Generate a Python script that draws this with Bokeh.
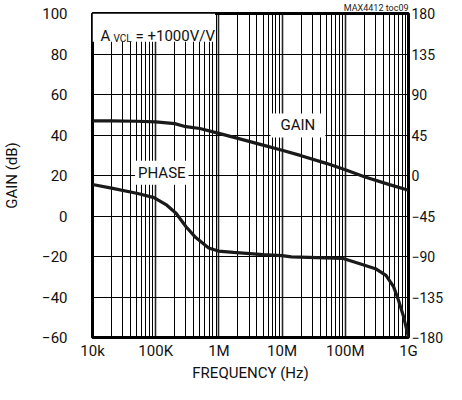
from bokeh.plotting import figure
from bokeh.models import (Range1d, LinearAxis, FixedTicker, Label, BoxAnnotation)
from bokeh.embed import file_html
from bokeh.resources import INLINE

# ---- data ----
gain_freq = [1e4, 2e4, 5e4, 1e5, 2e5, 3e5, 5e5, 1e6, 1.8e6, 5e6, 1e7, 2e7, 5e7, 1e8, 2e8, 5e8, 1e9]
gain_db = [47.0, 47.0, 46.8, 46.5, 45.6, 44.1, 43.2, 40.8, 38.7, 35.0, 32.5, 29.8, 26.0, 22.8, 19.4, 15.5, 12.7]

phase_freq = [1e4, 2e4, 5.2e4, 9.4e4, 1.5e5, 2.1e5, 3e5, 4.3e5, 6.9e5, 9.8e5, 1.7e6, 5e6,
              1e7, 1.4e7, 9e7, 1.7e8, 3e8, 4.4e8, 5.8e8, 6.9e8, 8.3e8, 1e9]
phase_deg = [-10, -14, -20, -24.6, -33, -42, -56.7, -69, -80.5, -84, -85.5, -88,
             -89, -90.5, -92, -98, -103.5, -111, -123.5, -138, -156, -180]

x_ticks = [1e4, 1e5, 1e6, 1e7, 1e8, 1e9]
x_tick_labels = ["10k", "100K", "1M", "10M", "100M", "1G"]
x_minor = [m * d for d in [1e4, 1e5, 1e6, 1e7, 1e8] for m in range(2, 10)]
gain_ticks = [-60, -40, -20, 0, 20, 40, 60, 80, 100]
phase_ticks = [-180, -135, -90, -45, 0, 45, 90, 135, 180]

FONT = "Roboto"
FS = "15px"

p = figure(width=446, height=384, x_axis_type="log",
           x_range=Range1d(1e4, 1e9), y_range=Range1d(-60, 100),
           output_backend="svg", toolbar_location=None,
           min_border_left=85, min_border_right=33, min_border_top=0, min_border_bottom=0,
           title="MAX4412 toc09")
p.extra_y_ranges = {"phase": Range1d(-180, 180)}

p.title.align = "right"
p.title.text_font = FONT
p.title.text_font_size = "9px"
p.title.text_font_style = "normal"
p.title.text_color = "#222222"
p.title.standoff = 1

p.outline_line_color = "black"
p.outline_line_width = 3
p.background_fill_color = "white"
p.border_fill_color = "white"

# axes
xa = p.xaxis[0]
xa.ticker = FixedTicker(ticks=x_ticks, minor_ticks=x_minor)
xa.major_label_overrides = {t: l for t, l in zip(x_ticks, x_tick_labels)}
xa.axis_label = "FREQUENCY (Hz)"

ya = p.yaxis[0]
ya.ticker = FixedTicker(ticks=gain_ticks)
ya.axis_label = "GAIN (dB)"

ra = LinearAxis(y_range_name="phase", ticker=FixedTicker(ticks=phase_ticks))
p.add_layout(ra, "right")

for ax in [xa, ya, ra]:
    ax.axis_line_color = None
    ax.major_tick_line_color = None
    ax.minor_tick_line_color = None
    ax.major_tick_out = 0
    ax.major_tick_in = 0
    ax.minor_tick_out = 0
    ax.minor_tick_in = 0
    ax.major_label_text_font = FONT
    ax.major_label_text_font_size = FS
    ax.major_label_text_color = "#111111"
    ax.axis_label_text_font = FONT
    ax.axis_label_text_font_size = FS
    ax.axis_label_text_font_style = "normal"
    ax.axis_label_text_color = "#111111"

ra.axis_label = None
ra.axis_label_standoff = 0
ra.axis_label_text_font_size = "1px"
ra.major_label_text_font_size = "14px"
xa.major_label_standoff = 4
xa.axis_label_standoff = 1
ya.major_label_standoff = 25
ya.axis_label_standoff = 18
ra.major_label_standoff = 3

# grid
p.xgrid.grid_line_color = "black"
p.xgrid.grid_line_width = 1.6
p.xgrid.grid_line_alpha = 0.85
p.xgrid.minor_grid_line_color = "black"
p.xgrid.minor_grid_line_width = 1
p.ygrid.grid_line_color = "black"
p.ygrid.grid_line_width = 1

# curves
p.line(gain_freq, gain_db, line_color="#1a1a1a", line_width=3.2)
p.line(phase_freq, phase_deg, y_range_name="phase", line_color="#1a1a1a", line_width=3.2)

# annotations
p.add_layout(BoxAnnotation(left=1e4, right=8.7e5, bottom=86, top=100,
                           fill_color="white", fill_alpha=1, line_alpha=0))
p.add_layout(Label(x=1e4, y=89, x_offset=8, text="A", text_font=FONT,
                   text_font_size=FS, text_color="#111111", text_baseline="alphabetic"))
p.add_layout(Label(x=1e4, y=89, x_offset=21, y_offset=-3, text="VCL", text_font=FONT,
                   text_font_size="10px", text_color="#111111", text_baseline="alphabetic"))
p.add_layout(Label(x=1e4, y=89, x_offset=43, text="= +1000V/V", text_font=FONT,
                   text_font_size=FS, text_color="#111111", text_baseline="alphabetic"))

p.add_layout(Label(x=1.78e7, y=44.7, text="GAIN", text_font=FONT, text_font_size=FS,
                   text_color="#111111", text_align="center", text_baseline="middle",
                   background_fill_color="white", padding=(10, 3)))
p.add_layout(Label(x=1.25e5, y=21.4, text="PHASE", text_font=FONT, text_font_size=FS,
                   text_color="#111111", text_align="center", text_baseline="middle",
                   background_fill_color="white", padding=(3, 3)))

open("out.html", "w").write(file_html(p, INLINE))
